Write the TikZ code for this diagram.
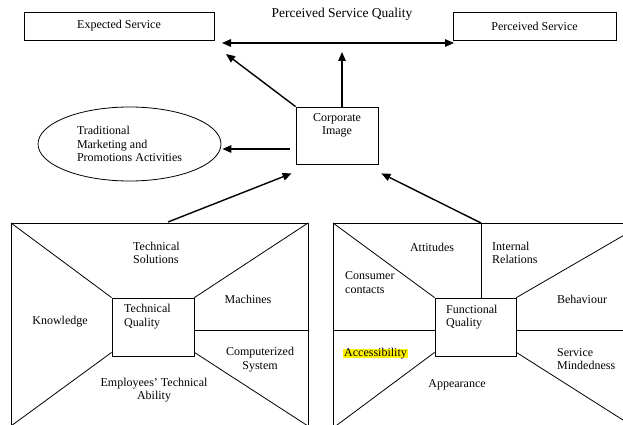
\documentclass[tikz,border=0pt]{standalone}
\usepackage{fontspec}
\setmainfont{Liberation Serif}
\usetikzlibrary{calc}
\usetikzlibrary{arrows.meta}
\usetikzlibrary{shapes.geometric}

\begin{document}
\begin{tikzpicture}[x=1pt, y=-1pt,
  box/.style={draw, line width=.8pt, inner sep=0pt},
  lbl/.style={inner sep=0pt, font=\fontsize{12}{13.5}\selectfont},
  arr/.style={line width=1.4pt, ->, >={Triangle[length=9pt, width=7.5pt]}}]
\useasboundingbox (0,0) rectangle (623,425);
\fill[white] (0,0) rectangle (623,425);

% service boxes and the quality arrow
\node[box, lbl, minimum width=190pt, minimum height=28pt] (exp) at (119,26) {Expected Service};
\node[box, lbl, minimum width=163pt, minimum height=28pt] (perc) at (534.5,26) {Perceived Service};
\node[lbl, font=\fontsize{13.5}{15}\selectfont] (psq) at (342,14) {Perceived Service Quality};
\coordinate (psqL) at (222,43);
\coordinate (psqR) at (454,43);
\draw[arr, <->] (psqL) -- (psqR);

% image in the middle
\node[box, minimum width=82pt, minimum height=57pt] (corp) at (337,135.5) {};
\node[lbl, align=center] (corpTxt) at (337,125.5) {Corporate\\Image};
\node[ellipse, draw, line width=.8pt, lbl, align=left, minimum width=183pt, minimum height=74pt] (trad) at (129.5,144) {Traditional\\Marketing and\\Promotions Activities};
\coordinate (upTip) at (342,52);
\coordinate (diagTip) at (226,54);
\draw[arr] ($(corp.north)+(5,0)$) -- (upTip);
\draw[arr] (corp.north west) -- (diagTip);
\draw[arr] ($(corp.west)+(-6,13.5)$) -- ($(trad.east)+(1,5)$);

% the two quality frames
\coordinate (tqNW) at (11,223);  \coordinate (tqNE) at (308,223);
\coordinate (tqSW) at (11,426);  \coordinate (tqSE) at (308,426);
\coordinate (fqNW) at (333,223); \coordinate (fqNE) at (645,223);
\coordinate (fqSW) at (333,428); \coordinate (fqSE) at (645,434);
\coordinate (tqTop) at (168,222);
\coordinate (fqTop) at (481,223);
\node[box, minimum width=82pt, minimum height=58pt] (tq) at (153,327) {};
\node[box, minimum width=81pt, minimum height=58pt] (fq) at (475.5,327) {};
\begin{scope}[line width=.8pt]
\clip (0,0) rectangle (623,425);
\foreach \q in {tq, fq} {
 \draw (\q SW) -- (\q NW) -- (\q NE) -- (\q SE);
 \draw (\q NW) -- (\q.north west) (\q.north east) -- (\q NE);
 \draw (\q SW) -- ([yshift=4pt]\q.south west) ([yshift=4pt]\q.south east) -- (\q SE);
}
\draw ($(tq.east)+(0,3)$) -- ++(114,0);
\draw ($(fq.north)+(5.5,0)$) -- (fqTop);
\draw (333,330) -- ($(fq.west)+(0,3)$) ($(fq.east)+(0,3)$) -- ++(130,0);
\end{scope}
\draw[arr] (tqTop) -- ($(corp.south west)+(-4,9)$);
\draw[arr] (fqTop) -- ($(corp.south east)+(3,9)$);

% technical side
\node[lbl, align=left, anchor=west] (tsol) at (133,253) {Technical\\Solutions};
\node[lbl] (know) at (60,322) {Knowledge};
\node[lbl, align=left, anchor=west] (tqTxt) at (124,316.5) {Technical\\Quality};
\node[lbl, align=center] (abil) at (154,390) {Employees’ Technical\\Ability};
\node[lbl] (mach) at (248,299) {Machines};
\node[lbl, align=center] (comp) at (260,359.5) {Computerized\\System};

% functional side
\node[lbl] (att) at (432,247) {Attitudes};
\node[lbl, align=left, anchor=west] (intr) at (492,253) {Internal\\Relations};
\node[lbl, align=left, anchor=west] (cons) at (345,282.5) {Consumer\\contacts};
\node[lbl, align=left, anchor=west] (fqTxt) at (446,317) {Functional\\Quality};
\node[lbl, anchor=west, fill=yellow, inner xsep=1pt, text height=7.5pt, text depth=1pt] (acc) at (343,353.5) {Accessibility};
\node[lbl] (behav) at (582,299) {Behaviour};
\node[lbl, align=left, anchor=west] (mind) at (557,359) {Service\\Mindedness};
\node[lbl] (appear) at (457,385) {Appearance};
\end{tikzpicture}
\end{document}
